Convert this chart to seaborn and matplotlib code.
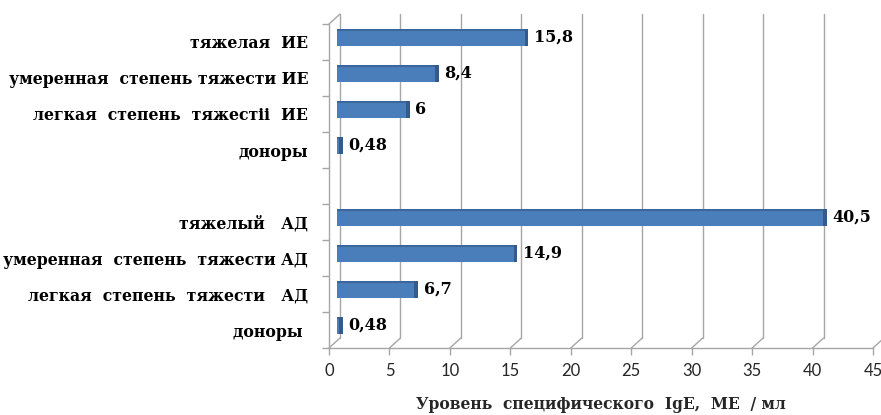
import matplotlib
matplotlib.use("Agg")
import matplotlib.pyplot as plt
from matplotlib.patches import Rectangle
import numpy as np
import seaborn as sns

sns.set_theme(style="white")
plt.rcParams['font.family'] = ['DejaVu Serif', 'Liberation Serif']

# данные: группа ИЕ (сверху) и группа АД (снизу)
ie_labels = ["тяжелая  ИЕ", "умеренная  степень тяжести ИЕ", "легкая  степень  тяжестіі  ИЕ", "доноры"]
ie_values = [15.8, 8.4, 6, 0.48]
ad_labels = ["тяжелый   АД", "умеренная  степень  тяжести АД", "легкая  степень  тяжести   АД", "доноры "]
ad_values = [40.5, 14.9, 6.7, 0.48]
gap_label = ""
x_ticks = [0, 5, 10, 15, 20, 25, 30, 35, 40, 45]
x_title = "Уровень  специфического  IgE,  МЕ  / мл"

labels = ie_labels + ad_labels
values = ie_values + ad_values
order = ie_labels + [gap_label] + ad_labels

W, H = 881, 415
fig = plt.figure(figsize=(W / 100, H / 100), dpi=100)


def px(l, t, w, h):
    return [l / W, 1 - (t + h) / H, w / W, h / H]


# передняя плоскость: оси, подписи; задняя: бары
ax_f = fig.add_axes(px(329, 24, 544, 324))
ax = fig.add_axes(px(337, 19.5, 544, 324))

n = len(order)
for a in (ax_f, ax):
    a.set_xlim(0, 45)
    a.set_ylim(n - 0.5, -0.5)

grid_col = "#a6a6a6"
dx = 11 / (544 / 45)
dy = 10 / 36

# "3D" сетка
for xt in x_ticks:
    ax_f.plot([xt, xt + dx], [n - 0.5, n - 0.5 - dy], color=grid_col, lw=1, clip_on=False)
    ax_f.plot([xt + dx, xt + dx], [n - 0.5 - dy, -0.5 - dy], color=grid_col, lw=1, clip_on=False)
ax_f.plot([0, dx], [-0.5, -0.5 - dy], color=grid_col, lw=1, clip_on=False)

ax_f.set_xticks(x_ticks)
ax_f.set_xticklabels([str(t) for t in x_ticks], family=['Lato', 'DejaVu Sans'], fontsize=12, color="#262626")
ax_f.set_yticks(range(n))
ax_f.set_yticklabels(order, fontsize=11.3, fontweight="bold", color="black")
ax_f.set_yticks(np.arange(-0.5, n, 1), minor=True)
ax_f.tick_params(axis="y", which="major", length=0, pad=15)
ax_f.tick_params(axis="y", which="minor", length=5, width=1, color=grid_col, direction="out", left=True)
ax_f.tick_params(axis="x", length=5, width=1, color=grid_col, direction="out", bottom=True, pad=6)
for s in ["top", "right"]:
    ax_f.spines[s].set_visible(False)
for s in ["bottom", "left"]:
    ax_f.spines[s].set_color(grid_col)
    ax_f.spines[s].set_linewidth(1)
ax_f.set_xlabel(x_title, fontsize=11.2, fontweight="bold", labelpad=12)

# бары
sns.barplot(x=values, y=labels, order=order, orient="h", color="#4a7ebb",
            saturation=1, width=0.48, ax=ax, edgecolor="none")
ax.set_facecolor("none")
ax.set_axis_off()
ax.set_xlim(0, 45)
ax.set_ylim(n - 0.5, -0.5)

capw = 3.5 / (544 / 45)
for p in list(ax.patches):
    x0, y0, w, h = p.get_x(), p.get_y(), p.get_width(), p.get_height()
    if np.isnan(w) or w == 0:
        continue
    ax.add_patch(Rectangle((x0, y0), w, h * 0.14, fc="#3b669c", ec="none"))
    ax.add_patch(Rectangle((x0 + w - capw, y0), capw, h, fc="#345b8c", ec="none"))

ax.bar_label(ax.containers[0], fmt=lambda v: f"{v:g}".replace(".", ","),
             padding=4, fontsize=11.5, fontweight="bold", color="black")

fig.savefig("out.png", dpi=100)
